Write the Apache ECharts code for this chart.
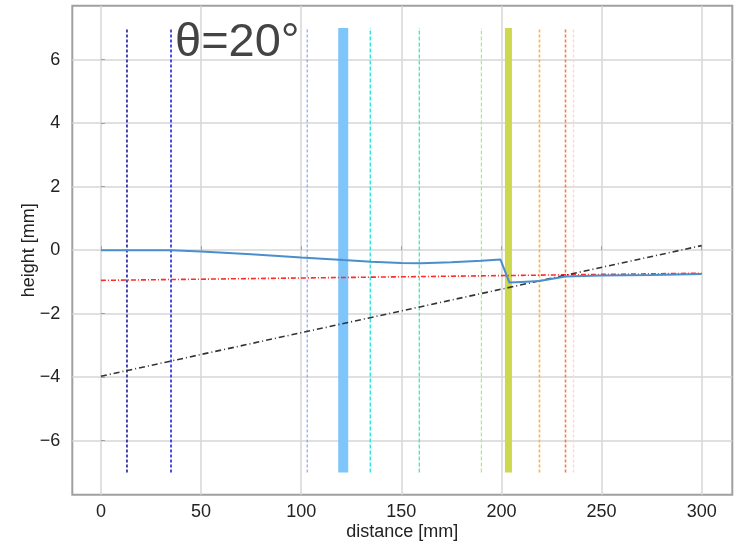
<!DOCTYPE html>
<html><head><meta charset="utf-8">
<script src="https://cdn.jsdelivr.net/npm/echarts@6/dist/echarts.min.js"></script>
<style>html,body{margin:0;padding:0;background:#fff}#c{width:739px;height:546px}</style>
</head><body><div id="c"></div>
<script>
// ---- data ----
const xTicks = [0, 50, 100, 150, 200, 250, 300];
const yTicks = [-6, -4, -2, 0, 2, 4, 6];
const markerX = [13, 35, 103, 134.5, 159, 190, 219, 232, 236];
const bandX = [121, 203.5];
const markerYRange = [-7, 7];
const profileX = [0, 10, 20, 30, 35, 50, 75, 100, 121, 135, 150, 160, 175, 190, 199.5, 204, 210, 219, 232, 250, 275, 300];
const profileY = [0, 0, 0, 0, 0, -0.04, -0.13, -0.23, -0.31, -0.36, -0.40, -0.41, -0.38, -0.33, -0.29, -1.02, -1.0, -0.97, -0.83, -0.80, -0.78, -0.75];
const redX = [0, 300];
const redY = [-0.95, -0.725];
const blackX = [0, 300];
const blackY = [-3.97, 0.145];
const annotation = 'θ=20°';

const markerColors = ['#1c1c9c', '#2222dd', '#7f8cff', '#22e0e0', '#3cf0a0', '#a8f070', '#ffb440', '#ff7a40', '#ffd6d6'];
const markerDash = [[3,2],[3,2],[3,2],[4,2],[4,2],[4,2],[3,2],[3,2],[3,2]];
const markerWidth = [1.6, 1.6, 1, 1.3, 1.3, 1.2, 1.6, 1.6, 1.4];
const bandColors = ['#7ec5fb', '#cdd84e'];
const bandWidths = [10, 7];

const pairs = (xs, ys) => xs.map((x, i) => [x, ys[i]]);
const fmt = v => (v < 0 ? '\u2212' + Math.abs(v) : String(v));

const series = [];
markerX.forEach((x, i) => series.push({
  type: 'line', data: [[x, markerYRange[0]], [x, markerYRange[1]]], symbol: 'none', silent: true, z: 2,
  lineStyle: { color: markerColors[i], width: markerWidth[i], type: markerDash[i] }
}));
bandX.forEach((x, i) => series.push({
  type: 'line', data: [[x, markerYRange[0]], [x, markerYRange[1]]], symbol: 'none', silent: true, z: 2,
  lineStyle: { color: bandColors[i], width: bandWidths[i], cap: 'butt' }
}));
series.push({ type: 'line', data: pairs(redX, redY), symbol: 'none', z: 3,
  lineStyle: { color: '#ff2a2a', width: 1.6, type: [5, 2, 1, 2] } });
series.push({ type: 'line', data: pairs(blackX, blackY), symbol: 'none', z: 3,
  lineStyle: { color: '#333', width: 1.6, type: [6, 3, 1, 3] } });
series.push({ type: 'line', data: pairs(profileX, profileY), symbol: 'none', z: 4,
  lineStyle: { color: '#4a8fcc', width: 2 } });

const font = 'Liberation Sans';
const chart = echarts.init(document.getElementById('c'), null, { renderer: 'canvas' });
chart.setOption({
  animation: false,
  backgroundColor: '#fff',
  grid: { left: 72.3, right: 6.7, top: 5.7, bottom: 51.3, show: true, borderColor: '#a0a0a0', borderWidth: 2, backgroundColor: 'transparent' },
  xAxis: {
    type: 'value', min: -14.3, max: 315.3,
    name: 'distance [mm]', nameLocation: 'middle', nameGap: 28, nameMoveOverlap: false,
    nameTextStyle: { fontSize: 18, color: '#222', fontFamily: font, verticalAlign: 'top' },
    axisLine: { show: false },
    axisTick: { show: true, inside: true, length: 4, customValues: xTicks, lineStyle: { color: '#a0a0a0' } },
    axisLabel: { customValues: xTicks, formatter: fmt, fontSize: 18, color: '#222', margin: 8, fontFamily: font },
    splitLine: { show: true, customValues: xTicks, lineStyle: { color: '#d6d6d6', width: 1.5 } }
  },
  yAxis: {
    type: 'value', min: -7.7, max: 7.7,
    name: 'height [mm]', nameLocation: 'middle', nameGap: 34, nameRotate: 90, nameMoveOverlap: false,
    nameTextStyle: { fontSize: 18, color: '#222', fontFamily: font },
    axisLine: { show: false },
    axisTick: { show: true, inside: true, length: 4, customValues: yTicks, lineStyle: { color: '#a0a0a0' } },
    axisLabel: { customValues: yTicks, formatter: fmt, fontSize: 18, color: '#222', margin: 12, fontFamily: font },
    splitLine: { show: true, customValues: yTicks, lineStyle: { color: '#d6d6d6', width: 1.5 } }
  },
  graphic: [{ type: 'text', left: 175, top: 20, style: { text: annotation, fontSize: 47, fill: '#444', fontFamily: font }, z: 10 }],
  series: series
});
</script></body></html>
